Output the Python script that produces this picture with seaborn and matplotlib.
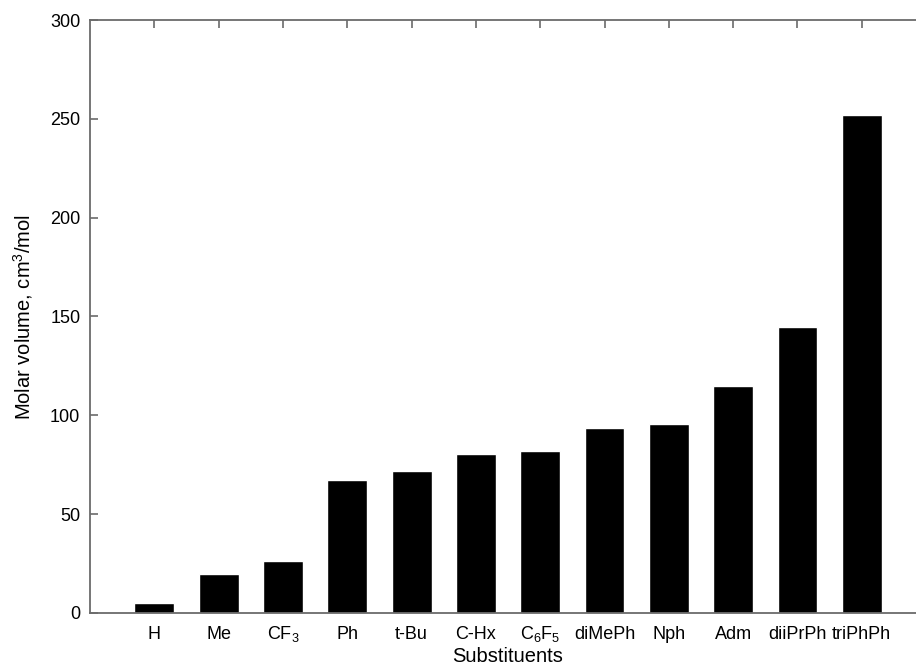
import matplotlib
matplotlib.use("Agg")
import matplotlib.pyplot as plt
import seaborn as sns
import pandas as pd

# substituent labels and molar volumes (cm3/mol)
substituents = ["H", "Me", r"CF$_3$", "Ph", "t-Bu", "C-Hx", r"C$_6$F$_5$",
                "diMePh", "Nph", "Adm", "diiPrPh", "triPhPh"]
molar_volume = [5, 19.5, 26.5, 67.5, 72, 80.5, 82, 93.5, 95.5, 115, 144.5, 252]
y_ticks = [0, 50, 100, 150, 200, 250, 300]

df = pd.DataFrame({"sub": substituents, "vol": molar_volume})

sns.set_style("ticks")
plt.rcParams["font.family"] = ["Liberation Sans", "DejaVu Sans"]
plt.rcParams["mathtext.fontset"] = "custom"
plt.rcParams["mathtext.rm"] = "Liberation Sans"
plt.rcParams["mathtext.it"] = "Liberation Sans:italic"
plt.rcParams["text.color"] = "black"
plt.rcParams["axes.labelcolor"] = "black"
plt.rcParams["xtick.labelcolor"] = "black"
plt.rcParams["ytick.labelcolor"] = "black"

fig = plt.figure(figsize=(9.16, 6.67), dpi=100)
ax = fig.add_axes([0.0983, 0.081, 0.9127, 0.889])

sns.barplot(data=df, x="sub", y="vol", color="black", saturation=1,
            width=0.62, ax=ax)

ax.set_xlim(-1, 12)
ax.set_ylim(0, 300)
ax.set_yticks(y_ticks)

spine_col = "#6b6b6b"
for s in ax.spines.values():
    s.set_visible(True)
    s.set_color(spine_col)
    s.set_linewidth(1.3)

ax.tick_params(axis="x", bottom=False, top=True, direction="in", length=6,
               width=1.2, color=spine_col, labelsize=13, pad=19)
ax.tick_params(axis="y", left=True, right=True, direction="in", length=6,
               width=1.2, color=spine_col, labelsize=13, pad=7)
# keep subscripted labels on the same baseline as the plain ones
for lab in ax.get_xticklabels():
    lab.set_verticalalignment("baseline")

ax.set_xlabel("Substituents", fontsize=14.5, labelpad=2)
ax.set_ylabel(r"Molar volume, cm$^3$/mol", fontsize=14.5, labelpad=11)

fig.savefig("out.png", dpi=100)
